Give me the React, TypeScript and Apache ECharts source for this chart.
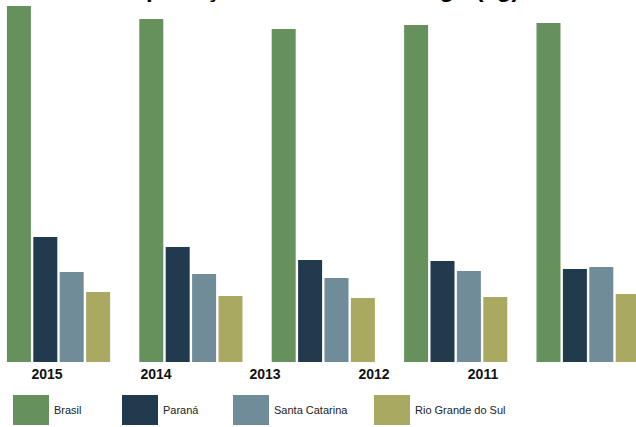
import React, { useEffect, useRef } from "react";
import * as echarts from "echarts";

const categories = ["2015", "2014", "2013", "2012", "2011"];
const seriesNames = ["Brasil", "Paraná", "Santa Catarina", "Rio Grande do Sul"];
const brasil = [35.6, 34.3, 33.3, 33.7, 33.9];
const parana = [12.5, 11.5, 10.2, 10.1, 9.3];
const santaCatarina = [9.0, 8.8, 8.4, 9.1, 9.5];
const rioGrandeDoSul = [7.0, 6.6, 6.4, 6.5, 6.8];
const titleText = "Exportação de carne de frango (kg)";

const colors = ["#66915C", "#213A4D", "#718C99", "#AAA962"];
const legendLefts = [13, 122, 233, 374];

export default function App() {
  const ref = useRef<HTMLDivElement>(null);
  useEffect(() => {
    if (!ref.current) return;
    const chart = echarts.init(ref.current, undefined, { renderer: "svg" });
    const values = [brasil, parana, santaCatarina, rioGrandeDoSul];
    chart.setOption({
      animation: false,
      backgroundColor: "#ffffff",
      title: {
        text: titleText,
        left: "center",
        top: -29,
        textStyle: { fontFamily: "Liberation Sans", fontWeight: "bold", fontSize: 24, color: "#000" },
      },
      grid: [
        { left: -7.7, width: 662, top: 0, height: 362, outerBoundsMode: "none", containLabel: false },
        { left: -7.5, width: 545, top: 362, height: 1, outerBoundsMode: "none", containLabel: false },
      ],
      xAxis: [
        {
          type: "category",
          gridIndex: 0,
          data: categories,
          axisLine: { show: false },
          axisTick: { show: false },
          axisLabel: { show: false },
        },
        {
          type: "category",
          gridIndex: 1,
          data: categories,
          axisLine: { show: false },
          axisTick: { show: false },
          axisLabel: {
            margin: 4,
            fontFamily: "Liberation Sans",
            fontWeight: "bold",
            fontSize: 14,
            color: "#111",
          },
        },
      ],
      yAxis: [
        { type: "value", gridIndex: 0, min: 0, max: 36.2, show: false },
        { type: "value", gridIndex: 1, min: 0, max: 1, show: false },
      ],
      legend: seriesNames.map((n, i) => ({
        data: [n],
        left: legendLefts[i],
        top: 395,
        itemWidth: 36,
        itemHeight: 30,
        icon: "rect",
        padding: 0,
        textStyle: {
          fontFamily: "Liberation Sans",
          fontSize: 11,
          color: "#222",
          padding: [16, 0, 0, 0],
        },
      })),
      series: seriesNames.map((n, i) => ({
        name: n,
        type: "bar",
        xAxisIndex: 0,
        yAxisIndex: 0,
        data: values[i],
        barWidth: 24,
        barGap: "10%",
        itemStyle: { color: colors[i] },
      })),
    });
    return () => chart.dispose();
  }, []);
  return <div ref={ref} style={{ width: 636, height: 427, position: "fixed", left: 0, top: 0 }} />;
}
